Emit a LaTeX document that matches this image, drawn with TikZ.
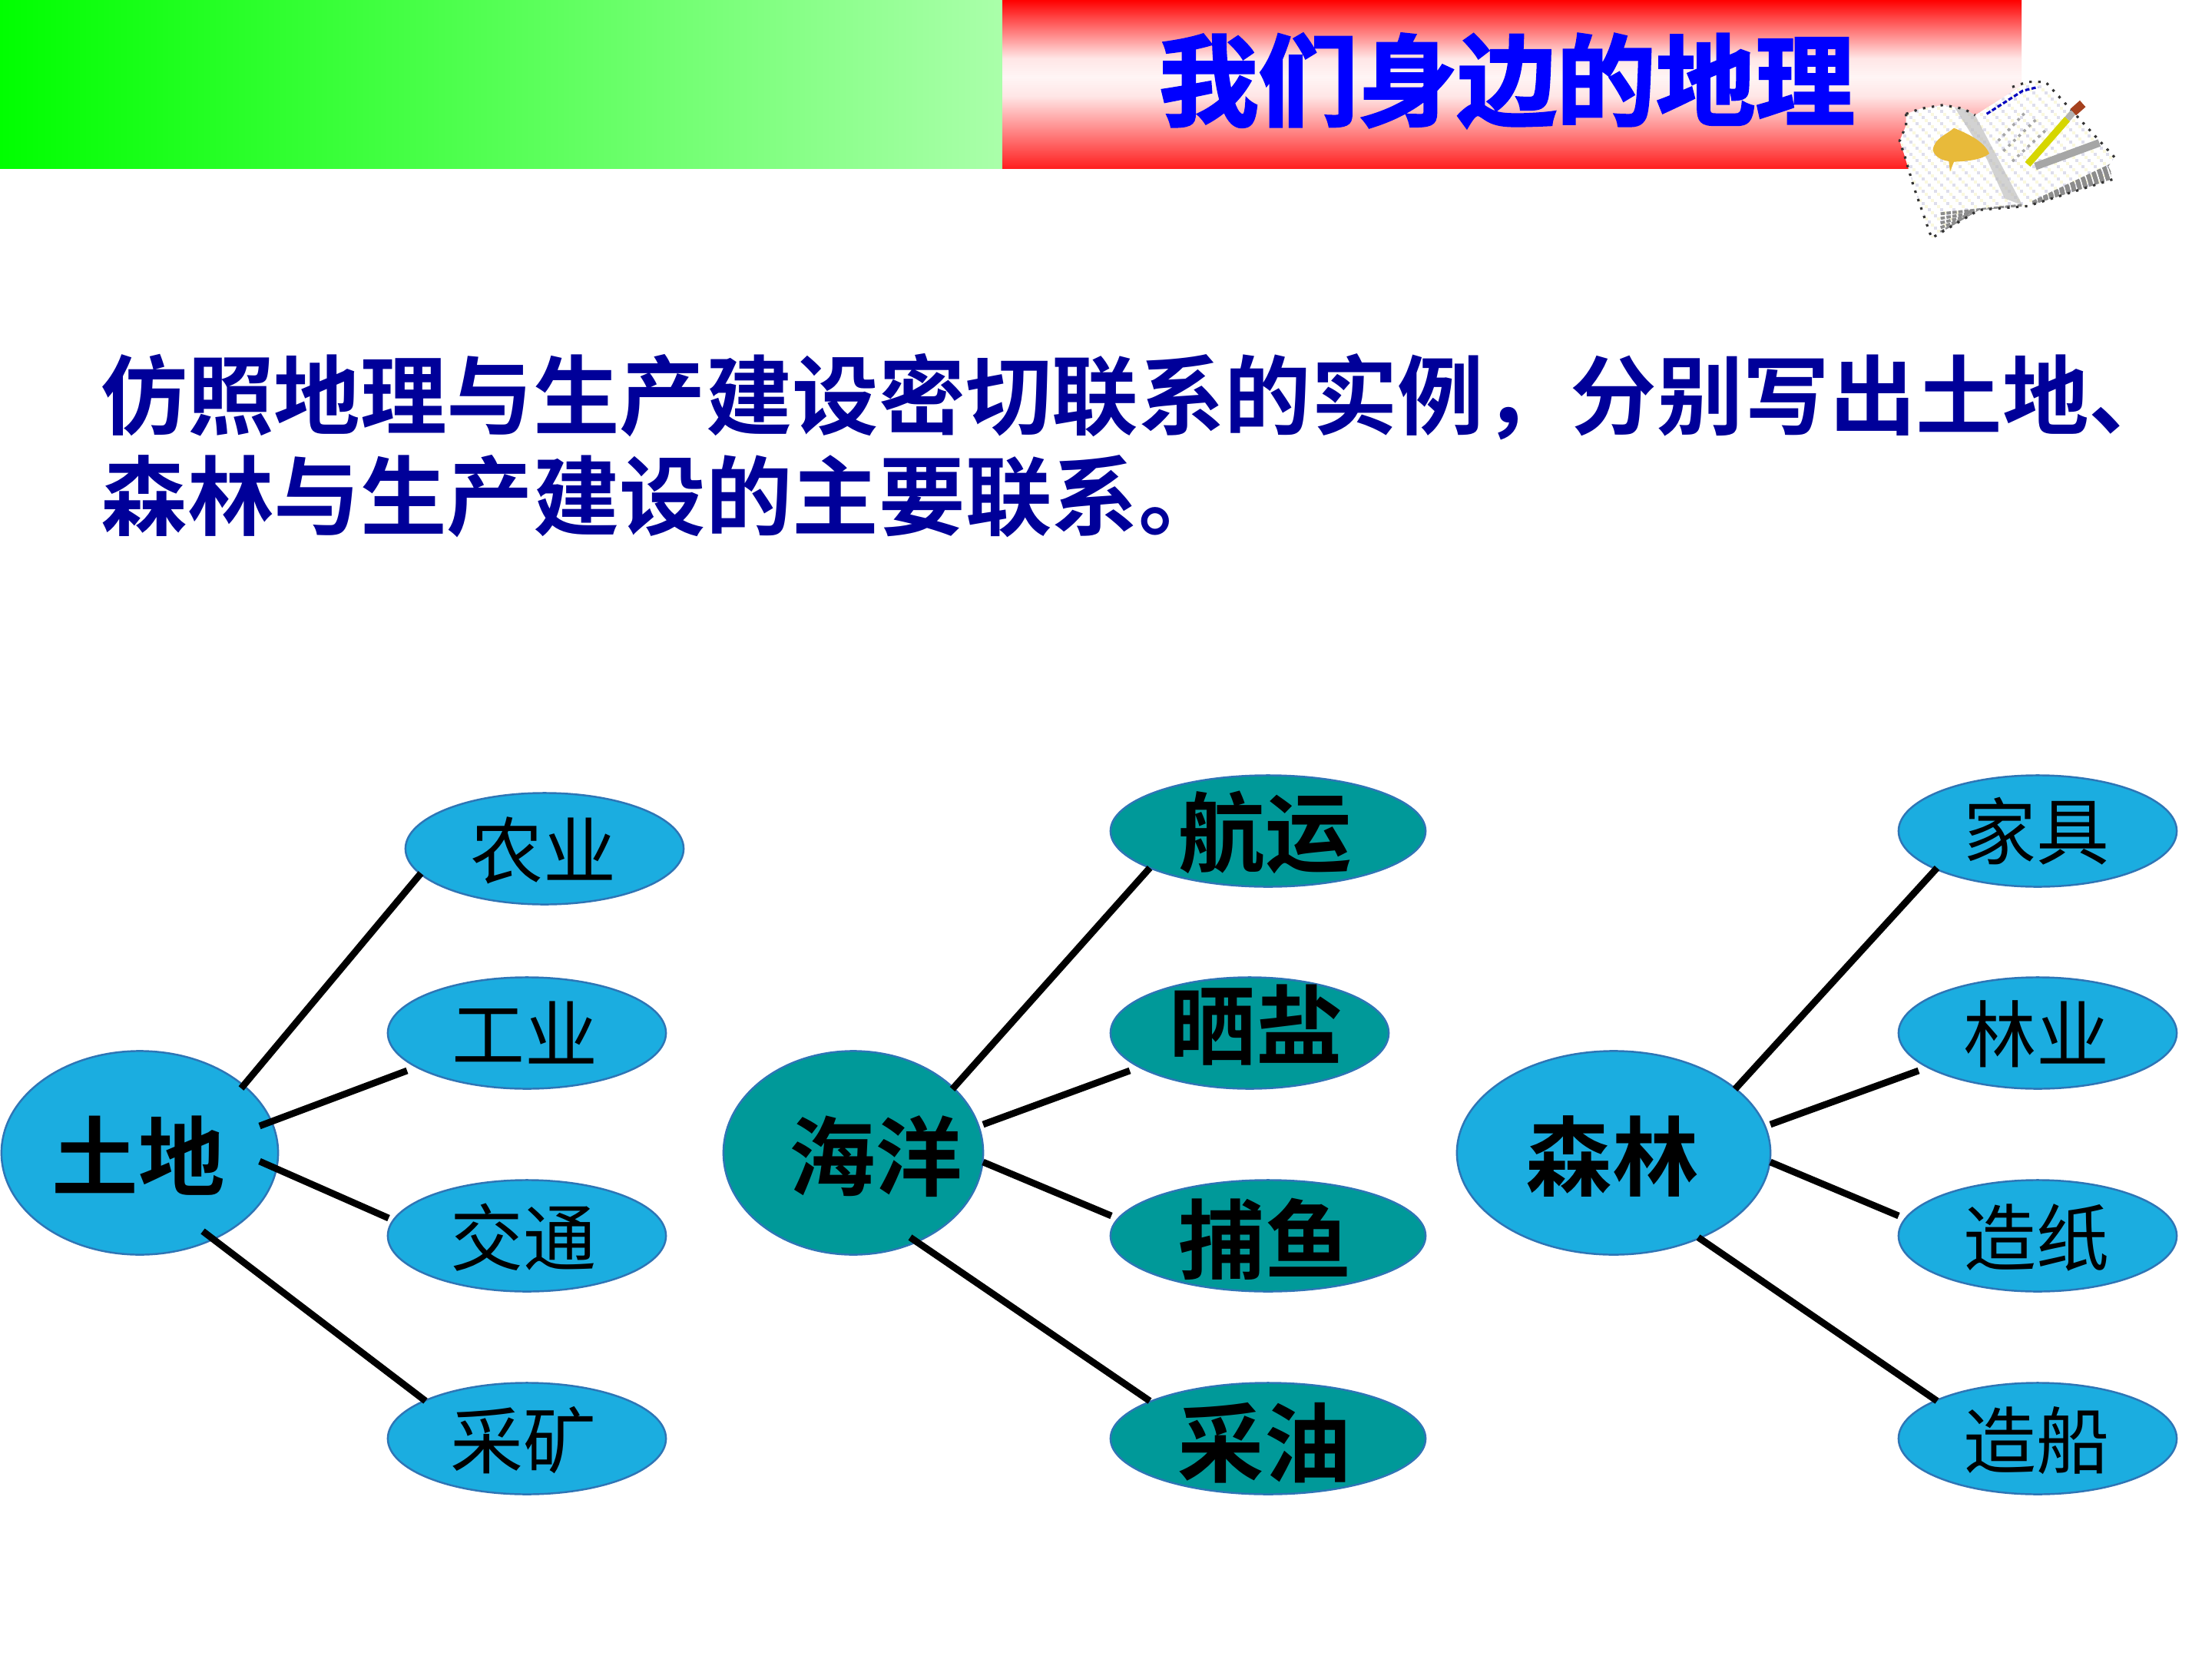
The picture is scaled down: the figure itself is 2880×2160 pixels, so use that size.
\documentclass[tikz,border=0pt]{standalone}
\usepackage{fontspec}
\usetikzlibrary{shapes.geometric}
\newfontfamily\cjk{Noto Sans CJK SC}
\newfontfamily\cjkfat[FakeBold=2.2]{Noto Sans CJK SC Bold}
\newfontfamily\cjkbold{Noto Sans CJK SC Bold}
\definecolor{skyfill}{HTML}{1BADE0}
\definecolor{tealfill}{HTML}{009999}
\definecolor{rimblue}{HTML}{2E75B6}
\definecolor{heading}{HTML}{000099}
\definecolor{titleblue}{HTML}{0000FF}
\definecolor{greenstart}{HTML}{00FF00}
\definecolor{greenend}{HTML}{AAFFAA}
\definecolor{palerose}{HTML}{FFE6E6}
\definecolor{paleband}{HTML}{FFF5F5}
\definecolor{redend}{HTML}{FF2020}
\definecolor{pagelav}{HTML}{DEDEEC}
\definecolor{pagecream}{HTML}{FAF8DE}
\definecolor{leafgold}{HTML}{E8BA3A}
\definecolor{pencilyellow}{HTML}{D6D600}
\definecolor{eraserbrown}{HTML}{A5411E}
% label with no box of its own, so the bubble keeps its set size; #1 right, #2 down
\newcommand\lab[3]{\raisebox{\dimexpr-0.38em-#2\relax}[0pt][0pt]{\makebox[0pt][l]{\hspace*{#1}\makebox[0pt]{#3}}}}
\tikzset{
  x=0.01cm, y=-0.01cm,
  bubble/.style={ellipse, draw=rimblue, line width=0.7pt, inner sep=0pt, text=black},
  hub/.style={bubble, minimum height=2.65cm, font=\cjkbold\fontsize{32}{32}\selectfont},
  leaflight/.style={bubble, fill=skyfill, minimum width=3.62cm, minimum height=1.45cm, font=\cjk\fontsize{27}{27}\selectfont},
  leafdark/.style={bubble, fill=tealfill, minimum height=1.45cm, font=\cjkbold\fontsize{32}{32}\selectfont},
  link/.style={line width=2.5pt, black},
  para/.style={anchor=west, inner sep=0pt, text=heading, font=\cjkbold\fontsize{32}{32}\selectfont},
  rim/.style={black!80, line width=0.9pt, dash pattern=on 0.9pt off 2.4pt},
  hatch/.style={gray!90, line width=1.1pt, dash pattern=on 1.6pt off 0.6pt},
  specks/.style={gray!70, line width=1pt, dash pattern=on 1pt off 1.6pt}
}
\begin{document}
\begin{tikzpicture}
\useasboundingbox (0,0) rectangle (2880,2160);
\fill[white] (0,0) rectangle (2880,2160);

% header bands
\shade[left color=greenstart, right color=greenend] (0,0) rectangle (1305,219);
\shade[top color=red, bottom color=palerose] (1305,0) rectangle (2632,76);
\shade[top color=palerose, bottom color=paleband] (1305,76) rectangle (2632,100);
\shade[top color=paleband, bottom color=palerose] (1305,100) rectangle (2632,125);
\shade[top color=palerose, bottom color=redend] (1305,125) rectangle (2632,219);
\node[inner sep=0pt, text=titleblue, font=\cjkfat\fontsize{36.8}{36.8}\selectfont] (title) at (1962,105) {我们身边的地理};

% open book with pencil
\begin{scope}[shift={(2420,60)}, scale=0.3333]
  \begin{scope}
    \clip (185,265) -- (240,245) -- (330,230) -- (410,245) -- (455,270) -- (660,140) -- (730,140) -- (1000,435) -- (975,470) -- (1000,518) -- (660,625) -- (470,640) -- (285,750) -- (250,650) -- (215,550) -- (180,430) -- (160,370) -- (185,310) -- cycle;
    \fill[white] (150,130) rectangle (1010,760);
    \foreach \col in {0,...,35} \foreach \row in {0,...,26} {
      \pgfmathparse{int(mod(\col+\row,2))}
      \ifnum\pgfmathresult=0
        \fill[pagelav] (150+\col*24,130+\row*24) rectangle ++(12,12);
        \fill[pagecream] (162+\col*24,142+\row*24) rectangle ++(12,12);
      \fi
    }
    % roll of the left page beside the gutter
    \fill[gray!50, opacity=0.7] (375,240) -- (410,245) -- (455,270) -- (640,622) -- (570,595) -- (500,440) -- cycle;
    % page edges, lower left and lower right
    \foreach \k in {0,1,2,3,4,5} {
      \draw[hatch] (320,655+\k*18) -- (640-\k*40,622+\k*4);
      \draw[hatch] (680,610+\k*2) -- (985,465+\k*10);
    }
    % shadow under the pencil
    \draw[gray!70, line width=2.8pt] (690,470) -- (940,378);
    % writing on the right page
    \draw[specks] (545,370) -- (650,260);
    \draw[specks] (565,410) -- (700,280);
    \draw[specks] (600,450) -- (740,320);
    \draw[blue!75!black, line width=0.9pt, dash pattern=on 1.6pt off 0.8pt] (500,265) -- (640,175) -- (700,160);
  \end{scope}
  % dark speckled rim
  \draw[rim] (185,265) -- (240,245) -- (330,230) -- (410,245) -- (455,270);
  \draw[rim] (185,265) -- (185,310) -- (160,370) -- (180,430) -- (215,550) -- (250,650) -- (285,750) -- (470,640) -- (660,625) -- (1000,518);
  \draw[rim] (600,160) -- (660,140) -- (730,140) -- (1000,435);
  % pressed leaf
  \fill[leafgold] (290,405) .. controls (295,360) and (345,345) .. (372,320) .. controls (420,340) and (490,370) .. (510,420) .. controls (480,445) and (420,450) .. (372,452) -- (357,490) -- (352,450) .. controls (320,445) and (295,430) .. (290,405) -- cycle;
  % pencil
  \draw[pencilyellow, line width=2.6pt] (660,462) -- (815,285);
  \draw[gray!60, line width=2.4pt] (815,285) -- (838,258);
  \draw[eraserbrown, line width=3.2pt] (838,258) -- (875,225);
\end{scope}

% instruction text
\node[para] (lineone) at (131,517) {仿照地理与生产建设密切联系的实例，分别写出土地、};
\node[para] (linetwo) at (131,646) {森林与生产建设的主要联系。};

% first group
\node[hub, fill=skyfill, minimum width=3.60cm] (tudi) at (182,1501) {\lab{-0.02cm}{0.05cm}{土地}};
\node[leaflight] (nongye) at (709,1105) {\lab{-0.02cm}{0.02cm}{农业}};
\node[leaflight] (gongye) at (686,1345) {\lab{-0.03cm}{0.01cm}{工业}};
\node[leaflight] (jiaotong) at (686,1609) {\lab{-0.05cm}{0.02cm}{交通}};
\node[leaflight] (caikuang) at (686,1873) {\lab{-0.05cm}{0.02cm}{采矿}};
\draw[link] ([shift={(132,-84)}]tudi.center) -- ([shift={(-161,32)}]nongye.center);
\draw[link] ([shift={(156,-35)}]tudi.center) -- ([shift={(-156,49)}]gongye.center);
\draw[link] ([shift={(156,11)}]tudi.center) -- ([shift={(-180,-23)}]jiaotong.center);
\draw[link] ([shift={(82,102)}]tudi.center) -- ([shift={(-132,-49)}]caikuang.center);

% second group
\node[hub, fill=tealfill, minimum width=3.38cm] (haiyang) at (1111,1501) {\lab{0.29cm}{0.05cm}{海洋}};
\node[leafdark, minimum width=4.10cm] (hangyun) at (1651,1082) {\lab{-0.04cm}{0.02cm}{航运}};
\node[leafdark, minimum width=3.62cm] (shaiyan) at (1627,1345) {\lab{0.08cm}{-0.10cm}{晒盐}};
\node[leafdark, minimum width=4.10cm] (buyu) at (1651,1609) {\lab{-0.04cm}{0.05cm}{捕鱼}};
\node[leafdark, minimum width=4.10cm] (caiyou) at (1651,1873) {\lab{-0.05cm}{0.06cm}{采油}};
\draw[link] ([shift={(129,-83)}]haiyang.center) -- ([shift={(-154,48)}]hangyun.center);
\draw[link] ([shift={(169,-37)}]haiyang.center) -- ([shift={(-156,49)}]shaiyan.center);
\draw[link] ([shift={(169,12)}]haiyang.center) -- ([shift={(-204,-26)}]buyu.center);
\draw[link] ([shift={(74,110)}]haiyang.center) -- ([shift={(-154,-49)}]caiyou.center);

% third group
\node[hub, fill=skyfill, minimum width=4.08cm] (senlin) at (2101,1501) {\lab{-0.02cm}{0.05cm}{森林}};
\node[leaflight] (jiaju) at (2653,1082) {\lab{-0.02cm}{0cm}{家具}};
\node[leaflight] (linye) at (2653,1345) {\lab{-0.02cm}{0.01cm}{林业}};
\node[leaflight] (zaozhi) at (2653,1609) {\lab{-0.02cm}{0.02cm}{造纸}};
\node[leaflight] (zaochuan) at (2653,1873) {\lab{-0.02cm}{0.02cm}{造船}};
\draw[link] ([shift={(158,-83)}]senlin.center) -- ([shift={(-131,48)}]jiaju.center);
\draw[link] ([shift={(204,-37)}]senlin.center) -- ([shift={(-155,49)}]linye.center);
\draw[link] ([shift={(204,12)}]senlin.center) -- ([shift={(-181,-26)}]zaozhi.center);
\draw[link] ([shift={(110,110)}]senlin.center) -- ([shift={(-131,-49)}]zaochuan.center);
\end{tikzpicture}
\end{document}
